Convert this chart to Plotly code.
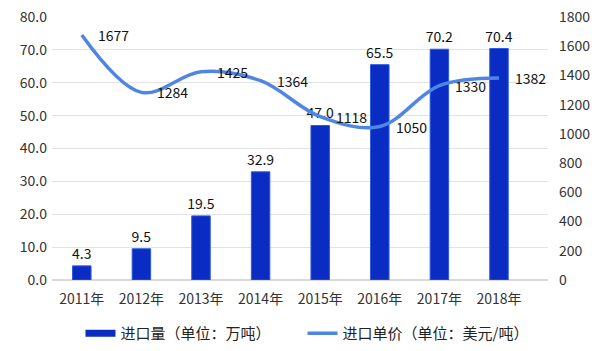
import plotly.graph_objects as go

years = ["2011年", "2012年", "2013年", "2014年", "2015年", "2016年", "2017年", "2018年"]
volume = [4.3, 9.5, 19.5, 32.9, 47.0, 65.5, 70.2, 70.4]
price = [1677, 1284, 1425, 1364, 1118, 1050, 1330, 1382]
left_ticks = [0, 10, 20, 30, 40, 50, 60, 70, 80]
right_ticks = [0, 200, 400, 600, 800, 1000, 1200, 1400, 1600, 1800]

font_family = "Noto Sans CJK SC, Noto Sans, sans-serif"
bar_color = "#0a2cc2"
line_color = "#4f86e6"

fig = go.Figure()
fig.add_trace(go.Bar(
    x=years, y=volume, name="进口量（单位：万吨）", showlegend=False,
    marker=dict(color=bar_color, line=dict(color="#2a5ae0", width=1)),
    text=[f"{v:.1f}" for v in volume], textposition="outside", constraintext="none",
    textfont=dict(size=14, color="#111111"), cliponaxis=False,
))
# legend proxy for the bar series (wide rectangle symbol)
fig.add_trace(go.Scatter(
    x=[None], y=[None], name="进口量（单位：万吨）", mode="lines",
    line=dict(color=bar_color, width=7),
))
fig.add_trace(go.Scatter(
    x=years, y=price, name="进口单价（单位：美元/吨）", yaxis="y2",
    mode="lines", line=dict(color=line_color, width=3.5, shape="spline", smoothing=1.0),
))

annotations = []
for yr, p in zip(years, price):
    annotations.append(dict(
        x=yr, y=p, yref="y2", xref="x", text=str(p), showarrow=False,
        xanchor="left", yanchor="middle", xshift=14,
        font=dict(size=14, color="#111111", family=font_family),
    ))

fig.update_layout(
    width=605, height=351,
    margin=dict(l=52, r=57, t=17, b=71, autoexpand=False),
    paper_bgcolor="white", plot_bgcolor="white",
    font=dict(family=font_family, size=13, color="#333333"),
    bargap=0.69,
    showlegend=True,
    annotations=annotations,
    legend=dict(orientation="h", x=0.5, xanchor="center", xref="container",
                y=0.05, yanchor="middle", yref="container",
                font=dict(size=15, color="#222222"), itemwidth=30,
                entrywidth=177, entrywidthmode="pixels",
                traceorder="normal", tracegroupgap=0),
    xaxis=dict(tickfont=dict(size=14, color="#333333"), showgrid=False, ticks="",
               showline=False, automargin=False, ticklabelstandoff=9),
    yaxis=dict(range=[0, 80], tickvals=left_ticks, ticktext=[f"{t:.1f}" for t in left_ticks],
               showgrid=True, gridcolor="#e3e3e3", gridwidth=1, zeroline=True,
               zerolinecolor="#d9d9d9", tickfont=dict(size=14, color="#333333"), ticks="",
               automargin=False, ticklabelstandoff=4),
    yaxis2=dict(range=[0, 1800], tickvals=right_ticks, overlaying="y", side="right",
                showgrid=False, zeroline=False, tickfont=dict(size=14, color="#333333"),
                ticks="", ticklabelstandoff=10, automargin=False),
)

fig.write_html("out.html")
